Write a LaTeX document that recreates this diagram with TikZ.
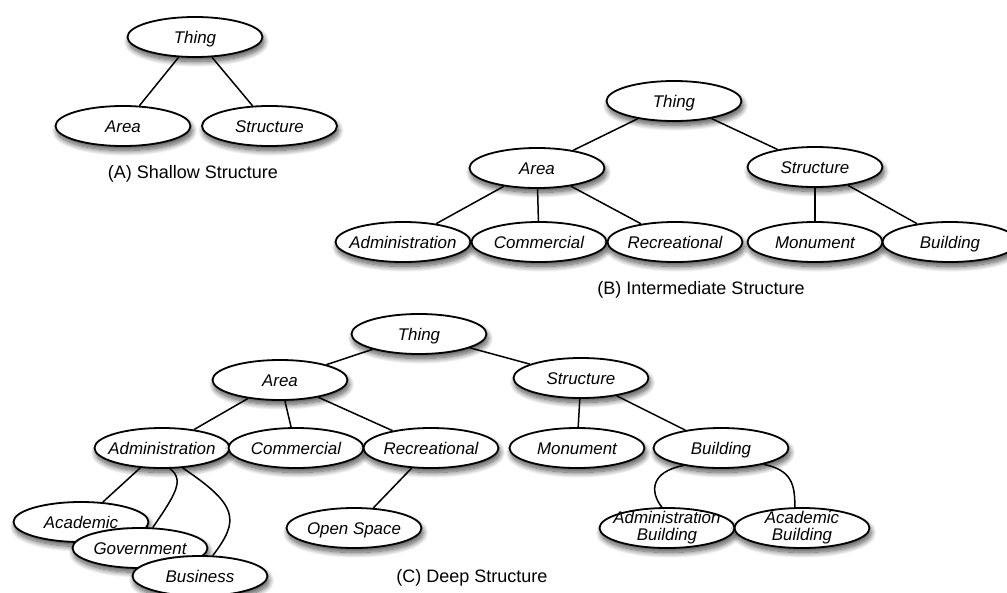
\documentclass[tikz,border=0pt]{standalone}
\usepackage{fontspec}
\newfontfamily\helv{Liberation Sans}
\usetikzlibrary{shapes.geometric,shadows.blur}
\tikzset{
  concept/.style={ellipse, draw=black, line width=1.8pt, fill=white,
    minimum width=135pt, minimum height=40pt, inner sep=0pt,
    blur shadow={shadow xshift=1.5pt, shadow yshift=-4.5pt,
      shadow blur radius=5.5pt, shadow blur steps=14, shadow opacity=70}},
  lbl/.style={font=\helv\itshape\fontsize{16.9}{17}\selectfont,
    inner sep=0pt, text height=12pt, text depth=0pt},
  lbltwo/.style={font=\helv\itshape\fontsize{16.9}{17}\selectfont,
    inner sep=0pt, align=center},
  link/.style={line width=1.5pt, draw=black},
  caption/.style={font=\helv\fontsize{18}{20}\selectfont, inner sep=0pt}
}
\begin{document}
\begin{tikzpicture}[x=1pt,y=-1pt]
\useasboundingbox (0,0) rectangle (1007,592);

% (A) shallow hierarchy
\node[concept, label={[lbl]center:Thing}] (a-thing) at (195,37) {};
\node[concept, label={[lbl]center:Area}] (a-area) at (123,126) {};
\node[concept, label={[lbl]center:Structure}] (a-struct) at (269.5,126) {};
\draw[link] (a-thing) -- (a-area);
\draw[link] (a-thing) -- (a-struct);
\node[caption] (a-cap) at (193,174) {(A) Shallow Structure};

% (B) intermediate hierarchy
\node[concept, label={[lbl]center:Thing}] (b-thing) at (674,101) {};
\node[concept, label={[lbl]center:Area}] (b-area) at (537,168) {};
\node[concept, label={[lbl]center:Structure}] (b-struct) at (815,167) {};
\node[concept, label={[lbl]center:Administration}] (b-adm) at (403,242) {};
\node[concept, label={[lbl]center:Commercial}] (b-com) at (539,242) {};
\node[concept, label={[lbl]center:Recreational}] (b-rec) at (675,242) {};
\node[concept, label={[lbl]center:Monument}] (b-mon) at (815,242) {};
\node[concept, label={[lbl]center:Building}] (b-bld) at (950,242) {};
\draw[link] (b-thing) -- (b-area);
\draw[link] (b-thing) -- (b-struct);
\draw[link] (b-area) -- (b-adm);
\draw[link] (b-area) -- (b-com);
\draw[link] (b-area) -- (b-rec);
\draw[link] (b-struct) -- (b-mon);
\draw[link] (b-struct) -- (b-bld);
\node[caption] (b-cap) at (701,290) {(B) Intermediate Structure};

% (C) deep hierarchy
\node[concept, label={[lbl]center:Thing}] (c-thing) at (419,334) {};
\node[concept, label={[lbl]center:Area}] (c-area) at (280,380) {};
\node[concept, label={[lbl]center:Structure}] (c-struct) at (581,378) {};
\node[concept, label={[lbl]center:Administration}] (c-adm) at (162,448) {};
\node[concept, label={[lbl]center:Commercial}] (c-com) at (296,448) {};
\node[concept, label={[lbl]center:Recreational}] (c-rec) at (431,448) {};
\node[concept, label={[lbl]center:Monument}] (c-mon) at (577,448) {};
\node[concept, label={[lbl]center:Building}] (c-bld) at (721,448) {};
\node[concept, label={[lbl]center:Open Space}] (c-open) at (354,528) {};
\node[concept, label={[lbl]center:Academic}] (c-acad) at (81,522) {};
\node[concept, label={[lbl]center:Government}] (c-gov) at (140,548) {};
\node[concept, label={[lbl]center:Business}] (c-bus) at (200,576) {};
\node[concept, label={[lbltwo]center:Administration\\Building}] (c-admb) at (667,528) {};
\node[concept, label={[lbltwo]center:Academic\\Building}] (c-acab) at (802,528) {};
\draw[link] (c-thing) -- (c-area);
\draw[link] (c-thing) -- (c-struct);
\draw[link] (c-area) -- (c-adm);
\draw[link] (c-area) -- (c-com);
\draw[link] (c-area) -- (c-rec);
\draw[link] (c-rec) -- (c-open);
\draw[link] (c-struct) -- (c-mon);
\draw[link] (c-struct) -- (c-bld);
\draw[link] (c-adm) -- (c-acad);
\draw[link] (c-adm.-69) .. controls (185,480) and (175,495) .. (c-gov.58);
\draw[link] (c-adm.-44) .. controls (238,505) and (240,520) .. (c-bus.58);
\draw[link] (c-bld.-155) .. controls (650,472) and (650,492) .. (c-admb.104);
\draw[link] (c-bld.-21) .. controls (792,470) and (795,485) .. (c-acab.109);
\node[caption] (c-cap) at (472,578) {(C) Deep Structure};
\end{tikzpicture}
\end{document}
